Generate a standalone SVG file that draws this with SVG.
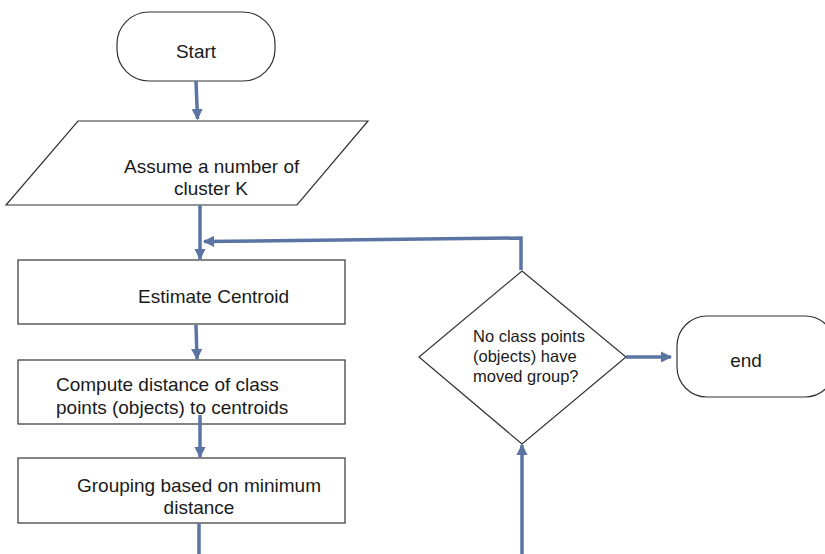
<svg xmlns="http://www.w3.org/2000/svg" width="825" height="554" viewBox="0 0 825 554">
  <defs>
    <marker id="arrow" viewBox="0 0 10 10" refX="9" refY="5" markerWidth="3.2" markerHeight="3.2" orient="auto" markerUnits="strokeWidth">
      <path d="M0,0 L10,5 L0,10 Z" fill="#5a74a3"/>
    </marker>
    <style>
      .shape { fill: #ffffff; stroke: #333333; stroke-width: 1.2; }
      .label { font-family: "Liberation Sans", Arial, sans-serif; font-size: 19px; fill: #1a1a1a; }
      .small { font-size: 16.5px; }
      .conn { fill: none; stroke: #5a74a3; stroke-width: 3.5; }
      .conn-arrow { marker-end: url(#arrow); }
    </style>
  </defs>

  <rect width="825" height="554" fill="#ffffff"/>

  <!-- Start terminator -->
  <g id="start">
    <rect class="shape" x="117" y="12" width="158" height="69" rx="32" ry="32"/>
    <text class="label" x="196" y="58" text-anchor="middle">Start</text>
  </g>

  <!-- Input: number of clusters -->
  <g id="assume-k">
    <polygon class="shape" points="78,121 368,121 297,205 6,205"/>
    <text class="label" x="124" y="173">Assume a number of</text>
    <text class="label" x="211" y="195" text-anchor="middle">cluster K</text>
  </g>

  <!-- Process steps -->
  <g id="estimate-centroid">
    <rect class="shape" x="18" y="260" width="327" height="64"/>
    <text class="label" x="138" y="303">Estimate Centroid</text>
  </g>

  <g id="compute-distance">
    <rect class="shape" x="18" y="360" width="327" height="64"/>
    <text class="label" x="56" y="391">Compute distance of class</text>
    <text class="label" x="56" y="414">points (objects) to centroids</text>
  </g>

  <g id="grouping">
    <rect class="shape" x="18" y="458" width="327" height="65"/>
    <text class="label" x="77" y="492">Grouping based on minimum</text>
    <text class="label" x="199" y="514" text-anchor="middle">distance</text>
  </g>

  <!-- Decision -->
  <g id="moved-decision">
    <polygon class="shape" points="522,271 626,357 522,444 419,357"/>
    <text class="label small" x="473" y="342">No class points</text>
    <text class="label small" x="473" y="362">(objects) have</text>
    <text class="label small" x="473" y="382">moved group?</text>
  </g>

  <!-- End terminator -->
  <g id="end">
    <rect class="shape" x="677" y="316" width="158" height="81" rx="30" ry="30"/>
    <text class="label" x="746" y="367" text-anchor="middle">end</text>
  </g>

  <!-- Connectors -->
  <g id="connectors">
    <path class="conn conn-arrow" d="M196,81 L197.5,119"/>
    <path class="conn conn-arrow" d="M200,205 L200,259"/>
    <path class="conn conn-arrow" d="M521,270 L521,238 L204,241.5"/>
    <path class="conn conn-arrow" d="M196,325 L197,359"/>
    <path class="conn conn-arrow" d="M200,415 L200,457"/>
    <path class="conn conn-arrow" d="M199,523 L199,558 L522,558 L522,445"/>
    <path class="conn conn-arrow" d="M626,357 L671,357"/>
  </g>
</svg>
